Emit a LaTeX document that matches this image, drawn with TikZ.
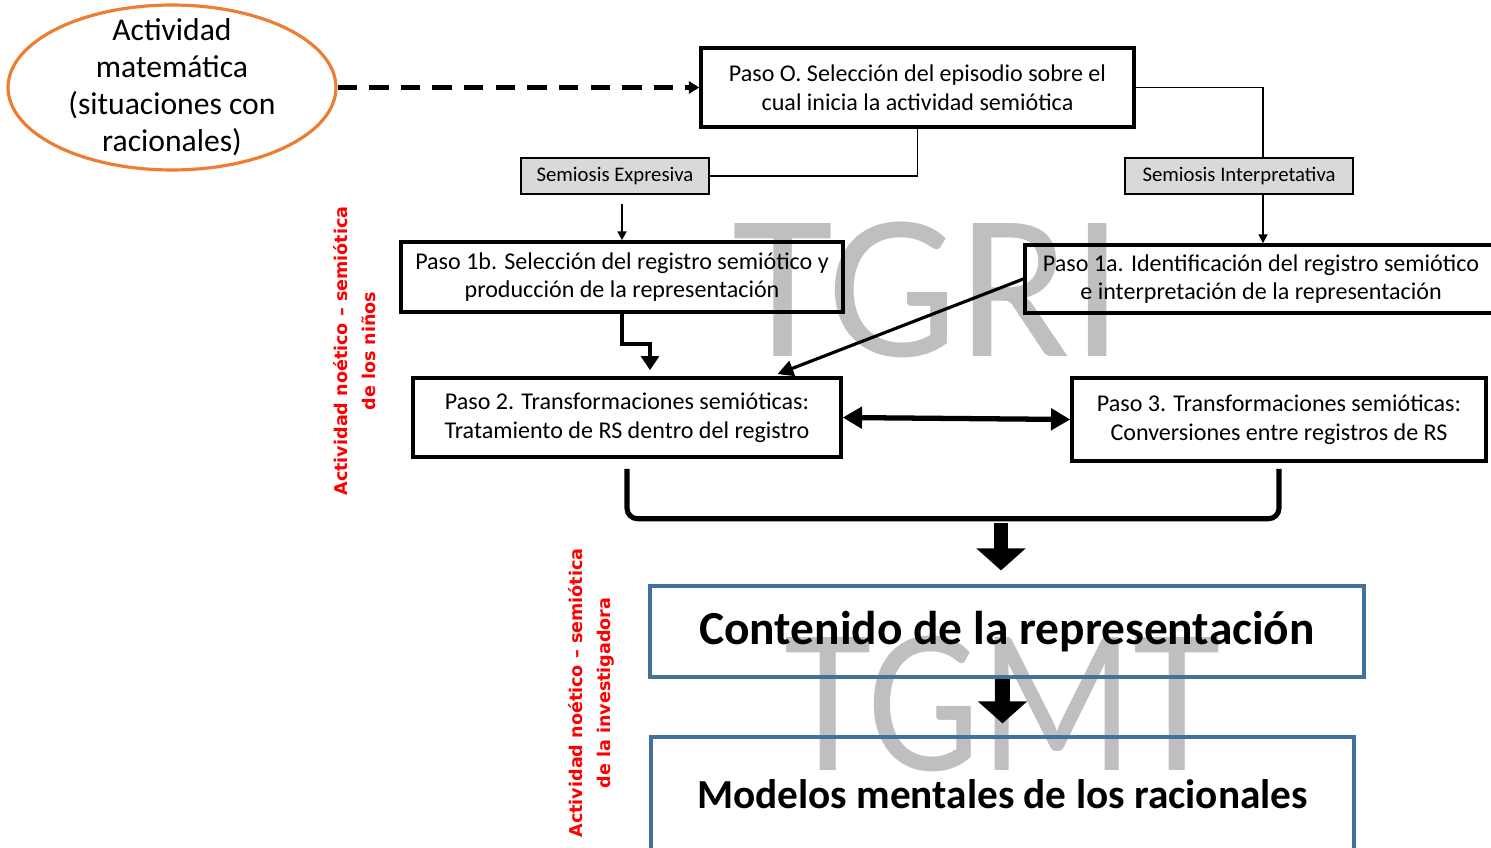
\documentclass[tikz,border=0pt]{standalone}
\usepackage{fontspec}
\setmainfont{Carlito}
\newfontfamily\labelfont{DejaVu Sans}
\usetikzlibrary{arrows.meta,shapes.geometric,positioning}
\definecolor{ovalorange}{HTML}{ED7D31}
\definecolor{boxblue}{HTML}{41719C}
\definecolor{semgray}{HTML}{D9D9D9}
\definecolor{wmgray}{HTML}{BFBFBF}
\begin{document}
\begin{tikzpicture}
[x=0.02cm, y=-0.02cm,
paso/.style={draw,line width=2pt,align=center,inner sep=0pt,font=\fontsize{13.7}{16.4}\selectfont},
semiosis/.style={draw,fill=semgray,line width=0.8pt,inner sep=0pt,minimum height=0.72cm,font=\fontsize{11.8}{13}\selectfont},
resultado/.style={draw=boxblue,line width=1.8pt,align=center,inner sep=0pt,font=\bfseries},
oval/.style={ellipse,draw=ovalorange,line width=1.8pt,inner sep=0pt,minimum width=6.56cm,minimum height=3.3cm},
ovaltext/.style={align=center,inner sep=0pt,font=\fontsize{18}{21}\selectfont},
actividad/.style={rotate=90,text=red,align=center,font=\labelfont\bfseries\fontsize{10}{16}\selectfont},
marca/.style={text=wmgray,inner sep=0pt,font=\fontsize{118}{118}\selectfont},
fino/.style={line width=1.1pt},
grueso/.style={line width=2.4pt,-{Triangle[width=10pt,length=8pt]}},
bloque/.style={line width=8.5pt,-{Triangle[width=0.96cm,length=0.44cm]}}]
\useasboundingbox (0,0) rectangle (1491,848);
% marcas de agua
\node[marca] (tgri) at (928,290) {TGRI};
\node[marca,xscale=0.865] (tgmt) at (1003,704) {TGMT};
% cajas
\node[oval] (act) at (172,87.5) {};
\node[ovaltext] (acttext) at (act.center) {Actividad\\matemática\\(situaciones con\\racionales)};
\node[paso,minimum width=8.66cm,minimum height=1.58cm] (paso0) at (917.5,87.5)
  {Paso O. Selección del episodio sobre el\\cual inicia la actividad semiótica};
\node[semiosis,minimum width=3.76cm] (semExp) at (615,176) {Semiosis Expresiva};
\node[semiosis,minimum width=4.56cm] (semInt) at (1239,176) {Semiosis Interpretativa};
\node[paso,minimum width=8.84cm,minimum height=1.40cm] (paso1b) at (622,277)
  {Paso 1b. Selección del registro semiótico y\\producción de la representación};
\node[paso,minimum width=9.44cm,minimum height=1.36cm] (paso1a) at (1261,279)
  {Paso 1a. Identificación del registro semiótico\\e interpretación de la representación};
\node[paso,minimum width=8.56cm,minimum height=1.58cm] (paso2) at (627,417.5)
  {Paso 2. Transformaciones semióticas:\\Tratamiento de RS dentro del registro};
\node[paso,minimum width=8.28cm,minimum height=1.66cm] (paso3) at (1279,419.5)
  {Paso 3. Transformaciones semióticas:\\Conversiones entre registros de RS};
\node[resultado,minimum width=14.28cm,minimum height=1.82cm,font=\fontsize{27}{32}\selectfont\bfseries] (contenido) at (1007,631.5)
  {Contenido de la representación};
\node[resultado,minimum width=14.06cm,minimum height=2.46cm,text height=17pt,text depth=6pt,font=\fontsize{23.5}{28}\selectfont\bfseries] (modelos) at (1002.5,798.5)
  {Modelos mentales de los racionales};
% etiquetas rojas
\node[actividad] (ninos) at (355,351) {Actividad noético – semiótica\\de los niños};
\node[actividad] (investigadora) at (591,693) {Actividad noético – semiótica\\de la investigadora};
% conectores
\draw[line width=2.3pt,dash pattern=on 11pt off 7pt,-{Triangle[width=7pt,length=6pt]}] (act) -- (paso0.west);
\draw[fino] (paso0.south) |- (semExp.east);
\draw[fino] (paso0.east) -| ([xshift=0.04cm]semInt.north -| paso1a.north);
\draw[fino,-{Triangle[width=5pt,length=5pt]}] ([xshift=0.04cm]semInt.south -| paso1a.north) -- ([xshift=0.04cm]paso1a.north);
\draw[fino,-{Triangle[width=5pt,length=5pt]},shorten <=1.8mm] (semExp.south -| paso1b.north) -- (paso1b.north);
\draw[grueso,shorten >=1.2mm] (paso1b.south) -- ++(0,30) -| ([xshift=4.6mm]paso2.north);
\draw[line width=1.8pt,-{Triangle[width=9pt,length=9pt]},shorten >=1.2mm] (paso1a.west) -- ([xshift=2.9cm]paso2.north);
\draw[line width=3pt,{Triangle[width=12pt,length=11pt]}-{Triangle[width=12pt,length=11pt]}] (paso2.east) -- (paso3.west);
\draw[line width=2.9pt,rounded corners=6pt] ([yshift=-2mm]paso2.south) -- ++(0,50) -| ([yshift=-1.2mm]paso3.south);
\draw[bloque] ([xshift=-1.2mm,yshift=1.22cm]contenido.north) -- ([xshift=-1.2mm,yshift=0.28cm]contenido.north);
\draw[bloque] (contenido.south -| modelos.north) -- ([yshift=2.4mm]modelos.north);
\end{tikzpicture}
\end{document}
